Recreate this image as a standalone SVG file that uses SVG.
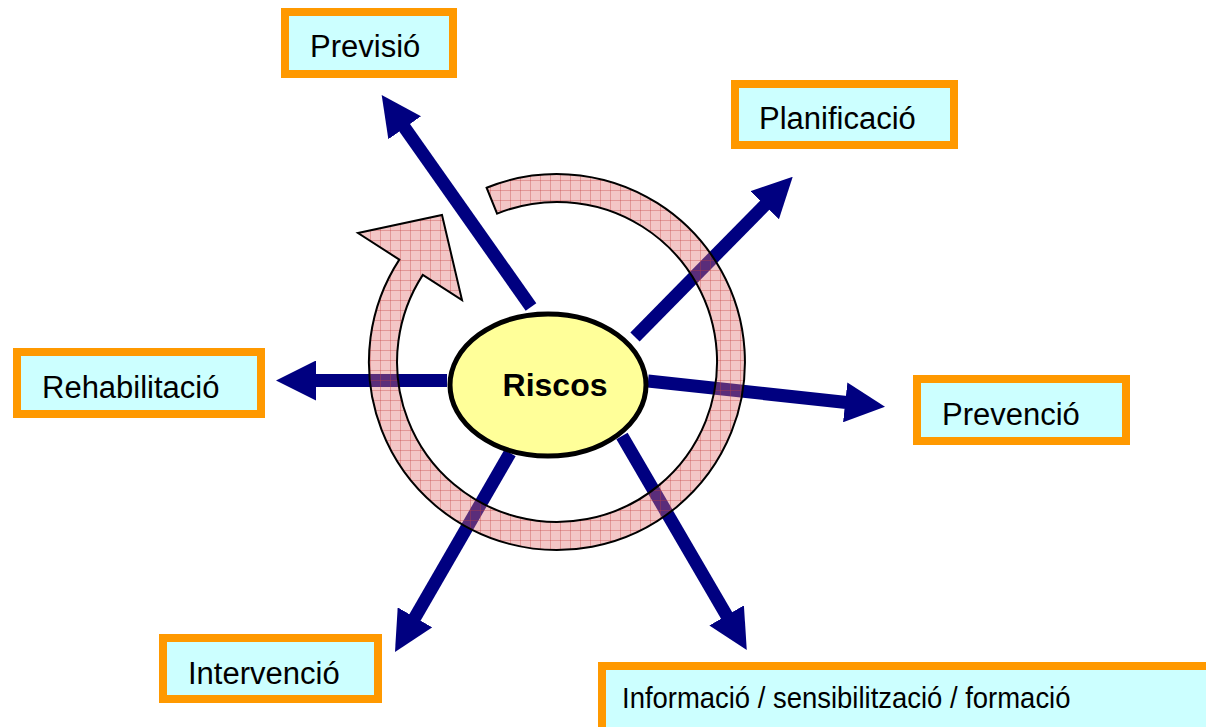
<svg xmlns="http://www.w3.org/2000/svg" width="1206" height="727" viewBox="0 0 1206 727">
  <style>
    .box rect { fill: #CCFFFF; stroke: #FF9900; stroke-width: 8; }
    .box text { font-family: "Liberation Sans", Arial, sans-serif; font-size: 31px; fill: #000000; }
    .conn line { stroke: #000080; stroke-width: 13; fill: none; marker-end: url(#head); }
  </style>
  <defs>
    <marker id="head" markerUnits="userSpaceOnUse" markerWidth="40" markerHeight="40" viewBox="0 0 40 40" refX="20" refY="20" orient="auto">
      <path d="M0,0 L40,20 L0,40 Z" fill="#000080"/>
    </marker>
    <pattern id="grid" patternUnits="userSpaceOnUse" width="10" height="10">
      <rect width="10" height="10" fill="#E07070" fill-opacity="0.4"/>
      <path d="M0,0.5 H10 M0.5,0 V10" stroke="#C04040" stroke-opacity="0.35" stroke-width="1" fill="none"/>
    </pattern>
  </defs>
  <rect width="1206" height="727" fill="#FFFFFF"/>

  <g id="connectors" class="conn">
    <line x1="531" y1="307" x2="393.2" y2="111.4"/>
    <line x1="635" y1="337" x2="778.7" y2="191"/>
    <line x1="648" y1="381" x2="865.1" y2="404.5"/>
    <line x1="622" y1="436" x2="736.7" y2="632.7"/>
    <line x1="510" y1="453" x2="405" y2="634.7"/>
    <line x1="447" y1="380.5" x2="296" y2="380.5"/>
  </g>

  <g id="cycle">
    <path d="M486.6,187.7 A188,188 0 1 1 399.3,259.6 L358,233 L442,215 L462,300 L422.8,274.9 A160,160 0 1 0 497.1,213.6 Z" fill="url(#grid)" stroke="#000000" stroke-width="2" stroke-linejoin="miter"/>
  </g>

  <g id="riscos">
    <ellipse cx="548" cy="385" rx="98" ry="71" fill="#FFFF99" stroke="#000000" stroke-width="5"/>
    <text x="555" y="396" text-anchor="middle" font-family="Liberation Sans, Arial, sans-serif" font-size="32" font-weight="bold">Riscos</text>
  </g>

  <g id="previsio" class="box">
    <rect x="285" y="12" width="168" height="62"/>
    <text x="310" y="57">Previsió</text>
  </g>
  <g id="planificacio" class="box">
    <rect x="735" y="84" width="219" height="61"/>
    <text x="759" y="129">Planificació</text>
  </g>
  <g id="prevencio" class="box">
    <rect x="917" y="379" width="209" height="62"/>
    <text x="942" y="425">Prevenció</text>
  </g>
  <g id="rehabilitacio" class="box">
    <rect x="17" y="352" width="244" height="62"/>
    <text x="42" y="398">Rehabilitació</text>
  </g>
  <g id="intervencio" class="box">
    <rect x="163" y="638" width="215" height="61"/>
    <text x="188" y="684">Intervenció</text>
  </g>
  <g id="informacio" class="box">
    <rect x="602" y="666" width="620" height="70"/>
    <text transform="translate(622,708) scale(0.915,1)" x="0" y="0" style="font-size:30px">Informació / sensibilització / formació</text>
  </g>
</svg>
